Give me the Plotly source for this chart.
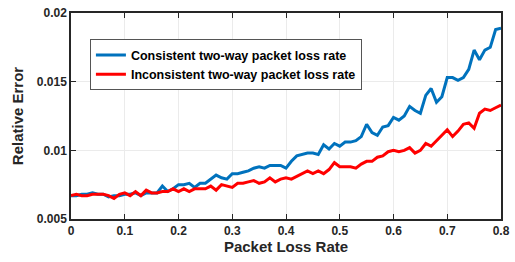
import plotly.graph_objects as go

loss_rate = [round(i * 0.01, 2) for i in range(81)]

consistent = [
    0.0067, 0.0067, 0.0068, 0.0068, 0.0069, 0.0068, 0.0068, 0.0066, 0.0067, 0.0067,
    0.0068, 0.0068, 0.0069, 0.0067, 0.0069, 0.0069, 0.0069, 0.0074, 0.0070, 0.0072,
    0.0075, 0.0075, 0.0076, 0.0073, 0.0076, 0.0076, 0.0079, 0.0082, 0.0080, 0.0079,
    0.0083, 0.0083, 0.0084, 0.0085, 0.0087, 0.0088, 0.0087, 0.0089, 0.0089, 0.0089,
    0.0087, 0.0092, 0.0096, 0.0097, 0.0098, 0.0098, 0.0097, 0.0104, 0.0101, 0.0105,
    0.0103, 0.0106, 0.0106, 0.0107, 0.0110, 0.0119, 0.0113, 0.0111, 0.0117, 0.0118,
    0.0124, 0.0122, 0.0125, 0.0132, 0.0129, 0.0127, 0.0140, 0.0145, 0.0135, 0.0139,
    0.0153, 0.0153, 0.0151, 0.0153, 0.0159, 0.0173, 0.0166, 0.0173, 0.0175, 0.0188,
    0.0189,
]

inconsistent = [
    0.0067, 0.0068, 0.0067, 0.0067, 0.0068, 0.0068, 0.0068, 0.0067, 0.0065, 0.0068,
    0.0069, 0.0067, 0.0070, 0.0067, 0.0071, 0.0069, 0.0069, 0.0070, 0.0070, 0.0072,
    0.0070, 0.0072, 0.0070, 0.0072, 0.0072, 0.0072, 0.0074, 0.0071, 0.0075, 0.0074,
    0.0073, 0.0076, 0.0076, 0.0077, 0.0078, 0.0076, 0.0077, 0.0080, 0.0077, 0.0079,
    0.0080, 0.0079, 0.0081, 0.0083, 0.0085, 0.0083, 0.0085, 0.0083, 0.0086, 0.0091,
    0.0088, 0.0088, 0.0088, 0.0087, 0.0090, 0.0092, 0.0092, 0.0095, 0.0096, 0.0099,
    0.0100, 0.0099, 0.0100, 0.0102, 0.0098, 0.0100, 0.0105, 0.0103, 0.0107, 0.0111,
    0.0115, 0.0110, 0.0114, 0.0119, 0.0120, 0.0116, 0.0127, 0.0130, 0.0129, 0.0131,
    0.0133,
]

x_ticks = [0, 0.1, 0.2, 0.3, 0.4, 0.5, 0.6, 0.7, 0.8]
x_tick_labels = ["0", "0.1", "0.2", "0.3", "0.4", "0.5", "0.6", "0.7", "0.8"]
y_ticks = [0.005, 0.01, 0.015, 0.02]
y_tick_labels = ["0.005", "0.01", "0.015", "0.02"]

FONT = "Liberation Sans, Arial, Helvetica, sans-serif"

fig = go.Figure()
fig.add_trace(go.Scatter(
    x=loss_rate, y=consistent, mode="lines",
    name="Consistent two-way packet loss rate",
    line=dict(color="#0072BD", width=3),
))
fig.add_trace(go.Scatter(
    x=loss_rate, y=inconsistent, mode="lines",
    name="Inconsistent two-way packet loss rate",
    line=dict(color="#FF0000", width=3),
))

axis_common = dict(
    showline=True, linecolor="#262626", linewidth=1.5, mirror="ticks",
    ticks="inside", ticklen=5, tickcolor="#262626", tickwidth=1,
    showgrid=True, gridcolor="#ebebeb", gridwidth=1,
    zeroline=False, automargin=False,
    tickfont=dict(family=FONT, size=12, color="#262626", weight="bold"),
)

fig.update_xaxes(
    range=[0, 0.8], tickvals=x_ticks, ticktext=x_tick_labels,
    title=dict(text="Packet Loss Rate", standoff=4,
               font=dict(family=FONT, size=15, color="#262626", weight="bold")),
    **axis_common,
)
fig.update_yaxes(
    range=[0.005, 0.02], tickvals=y_ticks, ticktext=y_tick_labels,
    title=dict(text="Relative Error", standoff=10,
               font=dict(family=FONT, size=15, color="#262626", weight="bold")),
    **axis_common,
)

fig.update_layout(
    width=515, height=262,
    margin=dict(l=71, r=14, t=13, b=43),
    plot_bgcolor="white", paper_bgcolor="white",
    legend=dict(
        x=0.044, y=0.872, xanchor="left", yanchor="top",
        bgcolor="white", bordercolor="#555555", borderwidth=1,
        font=dict(family=FONT, size=12.5, color="black", weight="bold"),
        itemwidth=30, tracegroupgap=0,
    ),
)

# remove the browser's default 8px body margin so the figure fills the window
fig.write_html(
    "out.html",
    config={"displayModeBar": False},
    post_script="document.body.style.margin='0';document.body.style.overflow='hidden';",
)
